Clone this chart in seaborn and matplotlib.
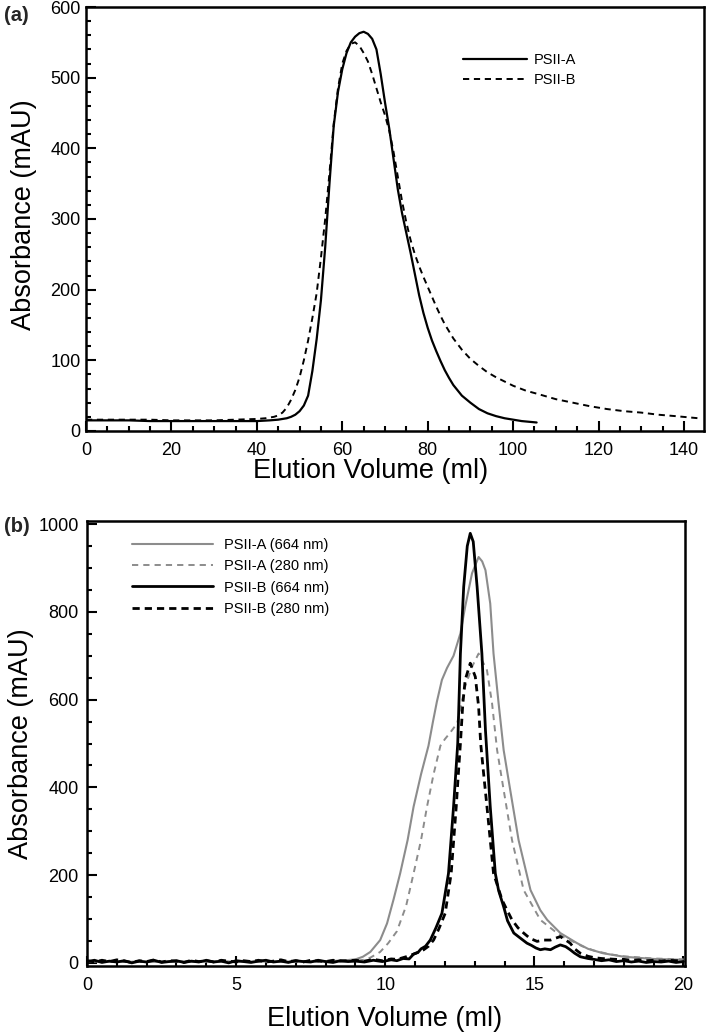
import matplotlib
matplotlib.use("Agg")
import matplotlib.pyplot as plt
import seaborn as sns
import pandas as pd
from matplotlib.ticker import MultipleLocator

# ---------------- Panel (a) data ----------------
a_vol_A = [0, 5, 10, 15, 20, 25, 30, 35, 40, 43, 45, 47, 48, 49, 50, 51, 52, 53, 54, 55,
           56, 57, 58, 59, 60, 61, 62, 63, 64, 65, 66, 67, 68, 69, 70, 71, 72, 73, 74, 75,
           76, 77, 78, 79, 80, 81, 82, 83, 84, 85, 86, 88, 90, 92, 94, 96, 98, 100, 102, 105.5]
a_abs_A = [15, 15, 15, 14, 14, 14, 14, 14, 14, 15, 16, 18, 20, 23, 28, 36, 50, 85, 130, 185,
           260, 350, 432, 480, 512, 535, 550, 558, 563, 565, 562, 555, 540, 505, 465, 428, 385, 342, 308, 280,
           252, 222, 192, 167, 146, 128, 113, 99, 86, 75, 65, 50, 40, 31, 25, 21, 18, 16, 14, 12]

a_vol_B = [0, 5, 10, 15, 20, 25, 30, 35, 40, 42, 44, 45, 46, 47, 48, 49, 50, 51, 52, 53,
           54, 55, 56, 57, 58, 59, 60, 61, 62, 63, 64, 65, 66, 67, 68, 69, 70, 71, 72, 73,
           74, 75, 76, 77, 78, 79, 80, 81, 82, 83, 84, 86, 88, 90, 92, 94, 96, 98, 100, 103,
           106, 110, 114, 118, 122, 126, 130, 134, 138, 143.4]
a_abs_B = [16, 16, 16, 16, 15, 15, 15, 16, 17, 18, 20, 22, 26, 33, 44, 58, 76, 100, 128, 160,
           195, 245, 300, 365, 435, 485, 520, 538, 548, 550, 545, 535, 523, 505, 485, 465, 447, 425, 395, 360,
           325, 295, 270, 250, 233, 218, 204, 190, 176, 163, 151, 131, 115, 102, 92, 83, 76, 70, 64, 57,
           52, 45, 40, 35, 31, 28, 26, 23, 21, 18]

# ---------------- Panel (b) data ----------------
base_vol = [0, 0.25, 0.5, 0.75, 1, 1.25, 1.5, 1.75, 2, 2.25, 2.5, 2.75, 3, 3.25, 3.5, 3.75,
            4, 4.25, 4.5, 4.75, 5, 5.25, 5.5, 5.75, 6, 6.25, 6.5, 6.75, 7, 7.25, 7.5, 7.75,
            8, 8.25, 8.5, 8.75]

b_vol_A664 = [0, 1, 2, 3, 4, 5, 6, 7, 8, 8.5, 9.0, 9.25, 9.5, 9.83, 10.06, 10.28, 10.5, 10.75,
              10.95, 11.2, 11.45, 11.6, 11.73, 11.9, 12.07, 12.29, 12.52, 12.68, 12.91, 13.13,
              13.25, 13.36, 13.52, 13.63, 13.8, 13.97, 14.19, 14.47, 14.87, 15.2, 15.43, 15.87,
              16.43, 16.8, 17.3, 18, 19, 20]
b_abs_A664 = [3, 3, 2, 3, 3, 3, 3, 3, 4, 5, 8, 14, 25, 52, 90, 145, 204, 280,
              356, 430, 495, 550, 595, 645, 672, 700, 751, 812, 888, 925,
              915, 895, 819, 705, 592, 485, 394, 280, 166, 120, 98, 68,
              45, 32, 22, 14, 9, 7]

b_vol_A280 = [0, 1, 2, 3, 4, 5, 6, 7, 8, 8.5, 9.0, 9.27, 9.5, 9.83, 10.1, 10.39, 10.7, 10.95,
              11.2, 11.4, 11.62, 11.85, 12.0, 12.18, 12.41, 12.68, 12.91, 13.13, 13.41, 13.58,
              13.75, 13.97, 14.25, 14.64, 15.2, 15.76, 16.0, 16.2, 16.6, 17, 17.5, 18, 19, 20]
b_abs_A280 = [3, 3, 2, 3, 3, 3, 3, 3, 3, 4, 5, 7, 12, 25, 45, 72, 130, 204,
              280, 356, 430, 495, 510, 525, 546, 630, 675, 705, 667, 592,
              485, 394, 280, 166, 98, 68, 58, 52, 38, 28, 20, 15, 10, 8]

b_vol_B664 = base_vol + [9, 9.3, 9.6, 9.9, 10.2, 10.39, 10.6, 10.8, 10.95, 11.1, 11.2, 11.35, 11.51,
                         11.7, 11.9, 12.12, 12.29, 12.43, 12.52, 12.63, 12.75, 12.85, 12.95, 13.08,
                         13.24, 13.36, 13.52, 13.69, 13.8, 13.97, 14.1, 14.31, 14.5, 14.75, 14.9,
                         15.05, 15.2, 15.35, 15.54, 15.7, 15.87, 16.05, 16.2, 16.35, 16.54, 16.8,
                         17, 17.25, 17.5, 17.75, 18, 18.25, 18.5, 18.75, 19, 19.25, 19.5, 19.75, 20]
b_abs_B664 = [3, 6, 1, 4, 2, 5, 0, 4, 2, 6, 1, 3, 5, 1, 4, 2, 6, 2, 4, 0, 5, 3, 1, 4, 6, 2, 4, 1,
              5, 3, 2, 6, 3, 1, 5, 3] + \
             [4, 2, 6, 3, 7, 5, 10, 9, 20, 24, 32, 38, 52,
              80, 113, 204, 356, 500, 705, 857, 950, 979, 960, 857,
              705, 530, 356, 204, 165, 128, 96, 68, 58, 45, 40,
              34, 30, 32, 30, 36, 41, 37, 30, 22, 14, 10,
              8, 5, 7, 3, 5, 2, 4, 1, 3, 2, 4, 1, 3]

b_vol_B280 = base_vol + [9, 9.3, 9.6, 9.9, 10.2, 10.4, 10.7, 10.95, 11.1, 11.29, 11.45, 11.62, 11.8,
                         12.01, 12.21, 12.38, 12.45, 12.52, 12.6, 12.68, 12.85, 13.02, 13.13, 13.2,
                         13.3, 13.41, 13.63, 13.92, 14.1, 14.25, 14.45, 14.64, 14.85, 15.09, 15.3,
                         15.54, 15.7, 15.87, 16.05, 16.2, 16.35, 16.54, 16.8, 17, 17.25, 17.5,
                         17.75, 18, 18.25, 18.5, 18.75, 19, 19.25, 19.5, 19.75, 20]
b_abs_B280 = [5, 2, 6, 3, 7, 4, 1, 5, 3, 7, 2, 5, 4, 1, 6, 3, 5, 2, 6, 4, 2, 5, 3, 6, 2, 4, 7, 3,
              5, 2, 6, 4, 3, 6, 4, 5] + \
             [6, 4, 8, 5, 9, 8, 14, 20, 24, 30, 38, 52, 78,
              113, 204, 356, 430, 500, 590, 645, 683, 652, 584, 500,
              430, 356, 204, 143, 118, 98, 80, 68, 56, 49, 52,
              52, 56, 60, 52, 45, 32, 22, 15, 12, 10, 9,
              8, 8, 6, 7, 5, 6, 4, 6, 5, 5]

# ---------------- Figure ----------------
sns.set_theme(style="white")
plt.rcParams['font.family'] = ['Liberation Sans', 'DejaVu Sans']

fig = plt.figure(figsize=(7.08, 10.33), dpi=100)
ax1 = fig.add_axes([0.1215, 0.5828, 0.8729, 0.4104])
ax2 = fig.add_axes([0.1229, 0.0649, 0.8446, 0.4307])

dfA = pd.DataFrame({"vol": a_vol_A, "abs": a_abs_A})
dfB = pd.DataFrame({"vol": a_vol_B, "abs": a_abs_B})
sns.lineplot(data=dfA, x="vol", y="abs", ax=ax1, color="black", lw=1.6,
             label="PSII-A", sort=False, estimator=None)
sns.lineplot(data=dfB, x="vol", y="abs", ax=ax1, color="black", lw=1.4,
             linestyle=(0, (3.2, 2.4)), label="PSII-B", sort=False, estimator=None)

ax1.set_xlim(0, 144.7)
ax1.set_ylim(0, 600)
ax1.xaxis.set_major_locator(MultipleLocator(20))
ax1.xaxis.set_minor_locator(MultipleLocator(5))
ax1.yaxis.set_major_locator(MultipleLocator(100))
ax1.yaxis.set_minor_locator(MultipleLocator(20))

b_series = [
    (b_vol_A664, b_abs_A664, "PSII-A (664 nm)", "#8c8c8c", "-", 1.5),
    (b_vol_A280, b_abs_A280, "PSII-A (280 nm)", "#8c8c8c", (0, (3.2, 2.6)), 1.4),
    (b_vol_B664, b_abs_B664, "PSII-B (664 nm)", "black", "-", 2.0),
    (b_vol_B280, b_abs_B280, "PSII-B (280 nm)", "black", (0, (2.6, 1.8)), 2.0),
]
for xv, yv, lab, col, ls, lw in b_series:
    d = pd.DataFrame({"vol": xv, "abs": yv})
    sns.lineplot(data=d, x="vol", y="abs", ax=ax2, color=col, lw=lw, linestyle=ls,
                 label=lab, sort=False, estimator=None)

ax2.set_xlim(0, 20.05)
ax2.set_ylim(-7, 1007)
ax2.xaxis.set_major_locator(MultipleLocator(5))
ax2.xaxis.set_minor_locator(MultipleLocator(1))
ax2.yaxis.set_major_locator(MultipleLocator(200))
ax2.yaxis.set_minor_locator(MultipleLocator(50))

for ax in (ax1, ax2):
    for s in ax.spines.values():
        s.set_linewidth(1.8)
        s.set_color("black")
    ax.tick_params(which="both", direction="in", top=False, right=False,
                   bottom=True, left=True, color="black", width=1.5)
    ax.tick_params(which="major", length=7, labelsize=13, labelcolor="black")
    ax.tick_params(which="minor", length=3.5)
    ax.tick_params(axis="x", which="major", pad=8)
    ax.tick_params(axis="y", which="major", pad=4)
    ax.set_xlabel("Elution Volume (ml)", fontsize=19.5, color="black")
    ax.set_ylabel("Absorbance (mAU)", fontsize=19.5, color="black")
    ax.yaxis.label.set_verticalalignment("center")
    ax.grid(False)

ax1.xaxis.set_label_coords(0.461, -0.064)
ax1.yaxis.set_label_coords(-0.1, 0.51)
ax2.xaxis.set_label_coords(0.497, -0.09)
ax2.yaxis.set_label_coords(-0.11, 0.5)
ax2.tick_params(axis="y", which="major", pad=6)

leg1 = ax1.legend(loc="upper left", bbox_to_anchor=(0.6, 0.905), frameon=False,
                  fontsize=10.5, handlelength=4.4, handletextpad=0.5,
                  labelspacing=0.4, borderaxespad=0)
leg2 = ax2.legend(loc="upper left", bbox_to_anchor=(0.065, 0.975), frameon=False,
                  fontsize=10.5, handlelength=5.6, handletextpad=0.75,
                  labelspacing=0.5, borderaxespad=0)
for leg in (leg1, leg2):
    for t in leg.get_texts():
        t.set_color("black")

fig.text(0.006, 0.985, "(a)", fontsize=14.5, fontweight="bold", va="center", ha="left")
fig.text(0.006, 0.490, "(b)", fontsize=14.5, fontweight="bold", va="center", ha="left")

fig.savefig("out.png", dpi=100)
